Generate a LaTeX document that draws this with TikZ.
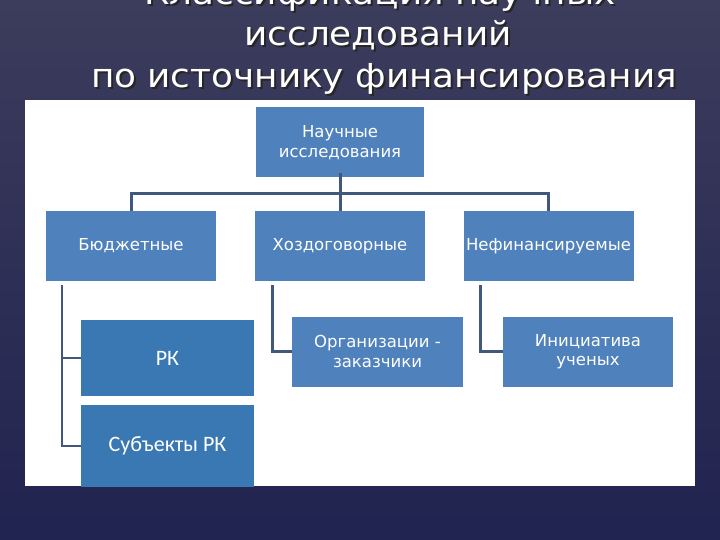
\documentclass[tikz,border=0pt]{standalone}
\usepackage{fontspec}
\newfontfamily\dejavu{DejaVu Sans}
\newfontfamily\titlefont[FakeStretch=1.085]{DejaVu Sans}
\newfontfamily\carlito{Carlito}
\definecolor{slidetop}{RGB}{60,60,92}
\definecolor{slidebot}{RGB}{33,35,80}
\definecolor{boxblue}{RGB}{79,129,189}
\definecolor{rkblue}{RGB}{58,120,180}
\definecolor{dialinecolor}{RGB}{64,88,124}
\newlength{\du}
\setlength{\du}{1bp}
\tikzset{
  diabox/.style={fill=boxblue, draw=none, text=white, inner sep=0pt, outer sep=0pt,
    minimum width=170\du, minimum height=70\du, align=center,
    font=\dejavu\fontsize{16.5\du}{19.5\du}\selectfont},
  rkbox/.style={diabox, fill=rkblue, minimum width=173\du,
    font=\carlito\fontsize{22\du}{26\du}\selectfont},
  dialine/.style={draw=dialinecolor, line width=3\du},
  titletext/.style={anchor=base, inner sep=0pt, text=white,
    font=\titlefont\fontsize{33\du}{40\du}\selectfont},
  titleshadow/.style={titletext, text=black!85}
}

\begin{document}
\begin{tikzpicture}
\pgftransformyscale{-1.000000}
% slide
\useasboundingbox (0\du,0\du) rectangle (720\du,540\du);
\shade[top color=slidetop, bottom color=slidebot] (0\du,0\du) rectangle (720\du,540\du);
% title
\node[titleshadow] (sh1) at (382\du,7\du) {Классификация научных};
\node[titletext] (t1) at (380\du,5\du) {Классификация научных};
\node[titleshadow] (sh2) at (380\du,48\du) {исследований};
\node[titletext] (t2) at (378\du,46\du) {исследований};
\node[titleshadow] (sh3) at (386\du,90\du) {по источнику финансирования};
\node[titletext] (t3) at (384\du,88\du) {по источнику финансирования};
% white panel
\fill[white] (25\du,100\du) rectangle (695\du,486\du);
% boxes
\node[diabox, minimum width=168\du] (nauch) at (340\du,142.5\du) {Научные\\исследования};
\node[diabox] (budg) at (131\du,246\du) {Бюджетные};
\node[diabox] (hozd) at (340\du,246\du) {Хоздоговорные};
\node[diabox] (nefin) at (548.5\du,246\du) {Нефинансируемые};
\node[rkbox, minimum height=76\du] (rk) at (167.5\du,358\du) {РК};
\node[rkbox, minimum height=82\du] (subj) at (167.5\du,446\du) {Субъекты РК};
\node[diabox, minimum width=171\du] (org) at (377.5\du,351.5\du) {Организации -\\заказчики};
\node[diabox] (init) at (588\du,351.5\du) {Инициатива\\ученых};
% connectors
\coordinate (bus) at (340\du,194\du);
\coordinate (bstem) at (62\du,285\du);
\coordinate (hstem) at (272\du,285\du);
\coordinate (nstem) at (480\du,285\du);
\draw[dialine] (budg.north) |- (bus) -| (nefin.north);
\draw[dialine] ([yshift=-4\du]nauch.south) -- (hozd.north);
\draw[dialine, line width=2\du] (bstem) |- (rk.west);
\draw[dialine, line width=2\du] (bstem) |- (subj.west);
\draw[dialine] (hstem) |- (org.west);
\draw[dialine] (nstem) |- (init.west);
\end{tikzpicture}
\end{document}
